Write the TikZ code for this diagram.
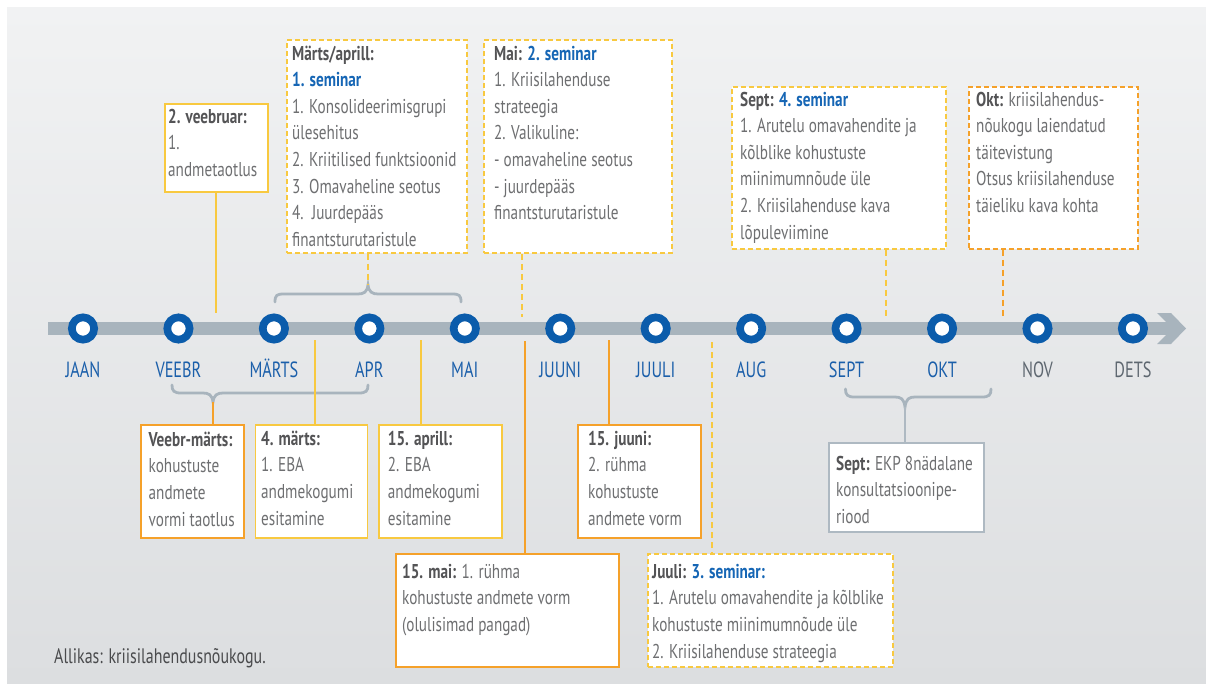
\documentclass[tikz,border=0pt]{standalone}
\usepackage{fontspec}
\setmainfont{PT Sans}[FakeStretch=0.76]
\newfontfamily\monthfam{PT Sans}[FakeStretch=0.74]
\usetikzlibrary{calc}
\definecolor{bgtop}{HTML}{F1F2F3}
\definecolor{bgbot}{HTML}{DCDEE0}
\definecolor{barcol}{HTML}{A8B4BD}
\definecolor{ringblue}{HTML}{0B5CAB}
\definecolor{monthblue}{HTML}{1B5FAA}
\definecolor{monthgray}{HTML}{5E6770}
\definecolor{boxyellow}{HTML}{F8C940}
\definecolor{boxorange}{HTML}{F5A12A}
\definecolor{boxgray}{HTML}{AEB9C2}
\definecolor{txtgray}{HTML}{6E6F71}
\definecolor{hdgray}{HTML}{545456}
\definecolor{srcgray}{HTML}{4A4B4D}
\definecolor{semblue}{HTML}{1666B5}
\newcommand{\tlhd}[1]{{\bfseries\color{hdgray}#1}}
\newcommand{\tlsem}[1]{{\bfseries\color{semblue}#1}}
\newcommand{\tlst}{\rule{0pt}{16pt}}
\begin{document}
\begin{tikzpicture}[x=1pt,y=-1pt,
  box/.style={fill=white, line width=1.8pt, inner sep=0pt, anchor=north west},
  ysolid/.style={box, draw=boxyellow},
  osolid/.style={box, draw=boxorange},
  gsolid/.style={box, draw=boxgray},
  ydash/.style={box, draw=boxyellow, dash pattern=on 5pt off 3pt},
  odash/.style={box, draw=boxorange, dash pattern=on 5pt off 3pt},
  txt/.style={anchor=north west, inner sep=0pt, align=left, text=txtgray, font=\fontsize{20}{26.6}\selectfont},
  month/.style={anchor=base, inner sep=0pt, font=\monthfam\fontsize{22}{24}\selectfont, text=monthblue},
  ring/.style={circle, fill=white, draw=ringblue, line width=7.7pt, minimum size=22.3pt, inner sep=0pt},
  yline/.style={draw=boxyellow, line width=1.8pt},
  oline/.style={draw=boxorange, line width=1.8pt},
  gline/.style={draw=boxgray, line width=1.8pt},
  ydline/.style={yline, dash pattern=on 6pt off 4pt},
  odline/.style={oline, dash pattern=on 6pt off 4pt},
  brace/.style={draw=barcol, line width=2.8pt, line cap=round}
]
\useasboundingbox (0,0) rectangle (1206,684);
\fill[white] (0,0) rectangle (1206,684);
\shade[top color=bgtop, bottom color=bgbot] (7,8) rectangle (1206,684);

% timeline bar with arrow
\fill[barcol] (48,322) rectangle (1168,335);
\fill[barcol] (1157,313) -- (1171,313) -- (1186,328.5) -- (1171,344) -- (1157,344) -- (1166,335) -- (1166,322) -- cycle;

% rings and months
\foreach \i/\n/\lab in {0/jaan/JAAN,1/veebr/VEEBR,2/marts/MÄRTS,3/apr/APR,4/mai/MAI,5/juuni/JUUNI,6/juuli/JUULI,7/aug/AUG,8/sept/SEPT,9/okt/OKT}{
  \node[ring] (r\n) at (83+95.45*\i,328.5) {};
  \node[month] (m\n) at (83+95.45*\i,377) {\lab};
}
\foreach \i/\n/\lab in {10/nov/NOV,11/dets/DETS}{
  \node[ring] (r\n) at (83+95.45*\i,328.5) {};
  \node[month, text=monthgray] (m\n) at (83+95.45*\i,377) {\lab};
}

% braces
\draw[brace] (275,302) .. controls (275,295) and (277,294) .. (284,294) -- (358,294) .. controls (364,294) and (367,292) .. (368,285) .. controls (369,292) and (372,294) .. (378,294) -- (452,294) .. controls (459,294) and (461,295) .. (461,302);
\coordinate (brA) at (368,285);
\draw[brace] (172,385) .. controls (172,391) and (174,393) .. (181,393) -- (203,393) .. controls (209,393) and (212,395) .. (213,402) .. controls (214,395) and (217,393) .. (223,393) -- (359,393) .. controls (366,393) and (368,391) .. (368,385);
\coordinate (brB) at (213,402);
\draw[brace] (845.5,389) .. controls (845.5,395) and (847.5,397) .. (854.5,397) -- (895,397) .. controls (901,397) and (904,399) .. (905,407) .. controls (906,399) and (909,397) .. (915,397) -- (982,397) .. controls (989,397) and (991,395) .. (991,389);
\coordinate (brC) at (905,407);

% upper boxes
\node[ysolid, minimum width=103, minimum height=88] (b2veeb) at (164,103) {};
\node[ydash, minimum width=180, minimum height=213] (bMA) at (286,39) {};
\node[ydash, minimum width=188, minimum height=213] (bMai) at (483,39) {};
\node[ydash, minimum width=214, minimum height=162] (bSept) at (731,86) {};
\node[odash, minimum width=169, minimum height=162] (bOkt) at (968,86) {};

% lower boxes
\node[osolid, minimum width=103, minimum height=113] (bVM) at (140,424) {};
\node[ysolid, minimum width=112, minimum height=113] (b4m) at (254.5,424) {};
\node[ysolid, minimum width=123, minimum height=113] (b15a) at (378,424) {};
\node[osolid, minimum width=123, minimum height=113] (b15j) at (577,424) {};
\node[gsolid, minimum width=155, minimum height=89] (bEKP) at (828,442) {};
\node[osolid, minimum width=223, minimum height=113] (b15m) at (395,553) {};
\node[ydash, minimum width=245, minimum height=113] (bJuuli) at (647,553) {};

% connector end points
\coordinate (c2veeb) at (216,313);
\coordinate (cMai) at (522,317);
\coordinate (cSept) at (886,317);
\coordinate (cOkt) at (1003,317);
\coordinate (c4m) at (315,340);
\coordinate (c15a) at (421,340);
\coordinate (c15j) at (609,340);
\coordinate (c15m) at (525,341);
\coordinate (cJuuli) at (712,342);

% connectors
\draw[yline] (c2veeb |- b2veeb.south) -- (c2veeb);
\draw[ydline] (brA |- bMA.south) -- (brA);
\draw[ydline] (cMai |- bMai.south) -- (cMai);
\draw[ydline] (cSept |- bSept.south) -- (cSept);
\draw[odline] (cOkt |- bOkt.south) -- (cOkt);
\draw[oline] (brB) -- (brB |- bVM.north);
\draw[yline] (c4m) -- (c4m |- b4m.north);
\draw[yline] (c15a) -- (c15a |- b15a.north);
\draw[oline] (c15j) -- (c15j |- b15j.north);
\draw[gline] (brC) -- (brC |- bEKP.north);
\draw[oline] (c15m) -- (c15m |- b15m.north);
\draw[ydline] (cJuuli) -- (cJuuli |- bJuuli.north);

% texts
\node[txt] (t2veeb) at (168,107) {\tlst\tlhd{2. veebruar:}\\1.\\andmetaotlus};
\node[txt] (tMA) at (292,44) {\tlst\tlhd{Märts/aprill:}\\\tlsem{1. seminar}\\1. Konsolideerimisgrupi\\ülesehitus\\2. Kriitilised funktsioonid\\3. Omavaheline seotus\\4.\ \ Juurdepääs\\finantsturutaristule};
\node[txt] (tMai) at (494,44) {\tlst\tlhd{Mai:} \tlsem{2. seminar}\\1. Kriisilahenduse\\strateegia\\2. Valikuline:\\- omavaheline seotus\\- juurdepääs\\finantsturutaristule};
\node[txt] (tSept) at (740,90) {\tlst\tlhd{Sept:} \tlsem{4. seminar}\\1. Arutelu omavahendite ja\\kõlblike kohustuste\\miinimumnõude üle\\2. Kriisilahenduse kava\\lõpuleviimine};
\node[txt] (tOkt) at (976,90) {\tlst\tlhd{Okt:} kriisilahendus-\\nõukogu laiendatud\\täitevistung\\Otsus kriisilahenduse\\täieliku kava kohta};
\node[txt] (tVM) at (148.5,430) {\tlst\tlhd{Veebr-märts:}\\kohustuste\\andmete\\vormi taotlus};
\node[txt] (t4m) at (261,429) {\tlst\tlhd{4. märts:}\\1. EBA\\andmekogumi\\esitamine};
\node[txt] (t15a) at (387.7,429) {\tlst\tlhd{15. aprill:}\\2. EBA\\andmekogumi\\esitamine};
\node[txt] (t15j) at (588,429) {\tlst\tlhd{15. juuni:}\\2. rühma\\kohustuste\\andmete vorm};
\node[txt] (tEKP) at (836,454) {\tlst\tlhd{Sept:} EKP 8nädalane\\konsultatsioonipe-\\riood};
\node[txt] (t15m) at (402,562) {\tlst\tlhd{15. mai:} 1. rühma\\kohustuste andmete vorm\\(olulisimad pangad)};
\node[txt] (tJuuli) at (652,562) {\tlst\tlhd{Juuli:} \tlsem{3. seminar:}\\1. Arutelu omavahendite ja kõlblike\\kohustuste miinimumnõude üle\\2. Kriisilahenduse strateegia};

\node[anchor=base west, inner sep=0pt, text=srcgray, font=\fontsize{21}{24}\selectfont] (src) at (54,663) {Allikas: kriisilahendusnõukogu.};
\end{tikzpicture}
\end{document}
